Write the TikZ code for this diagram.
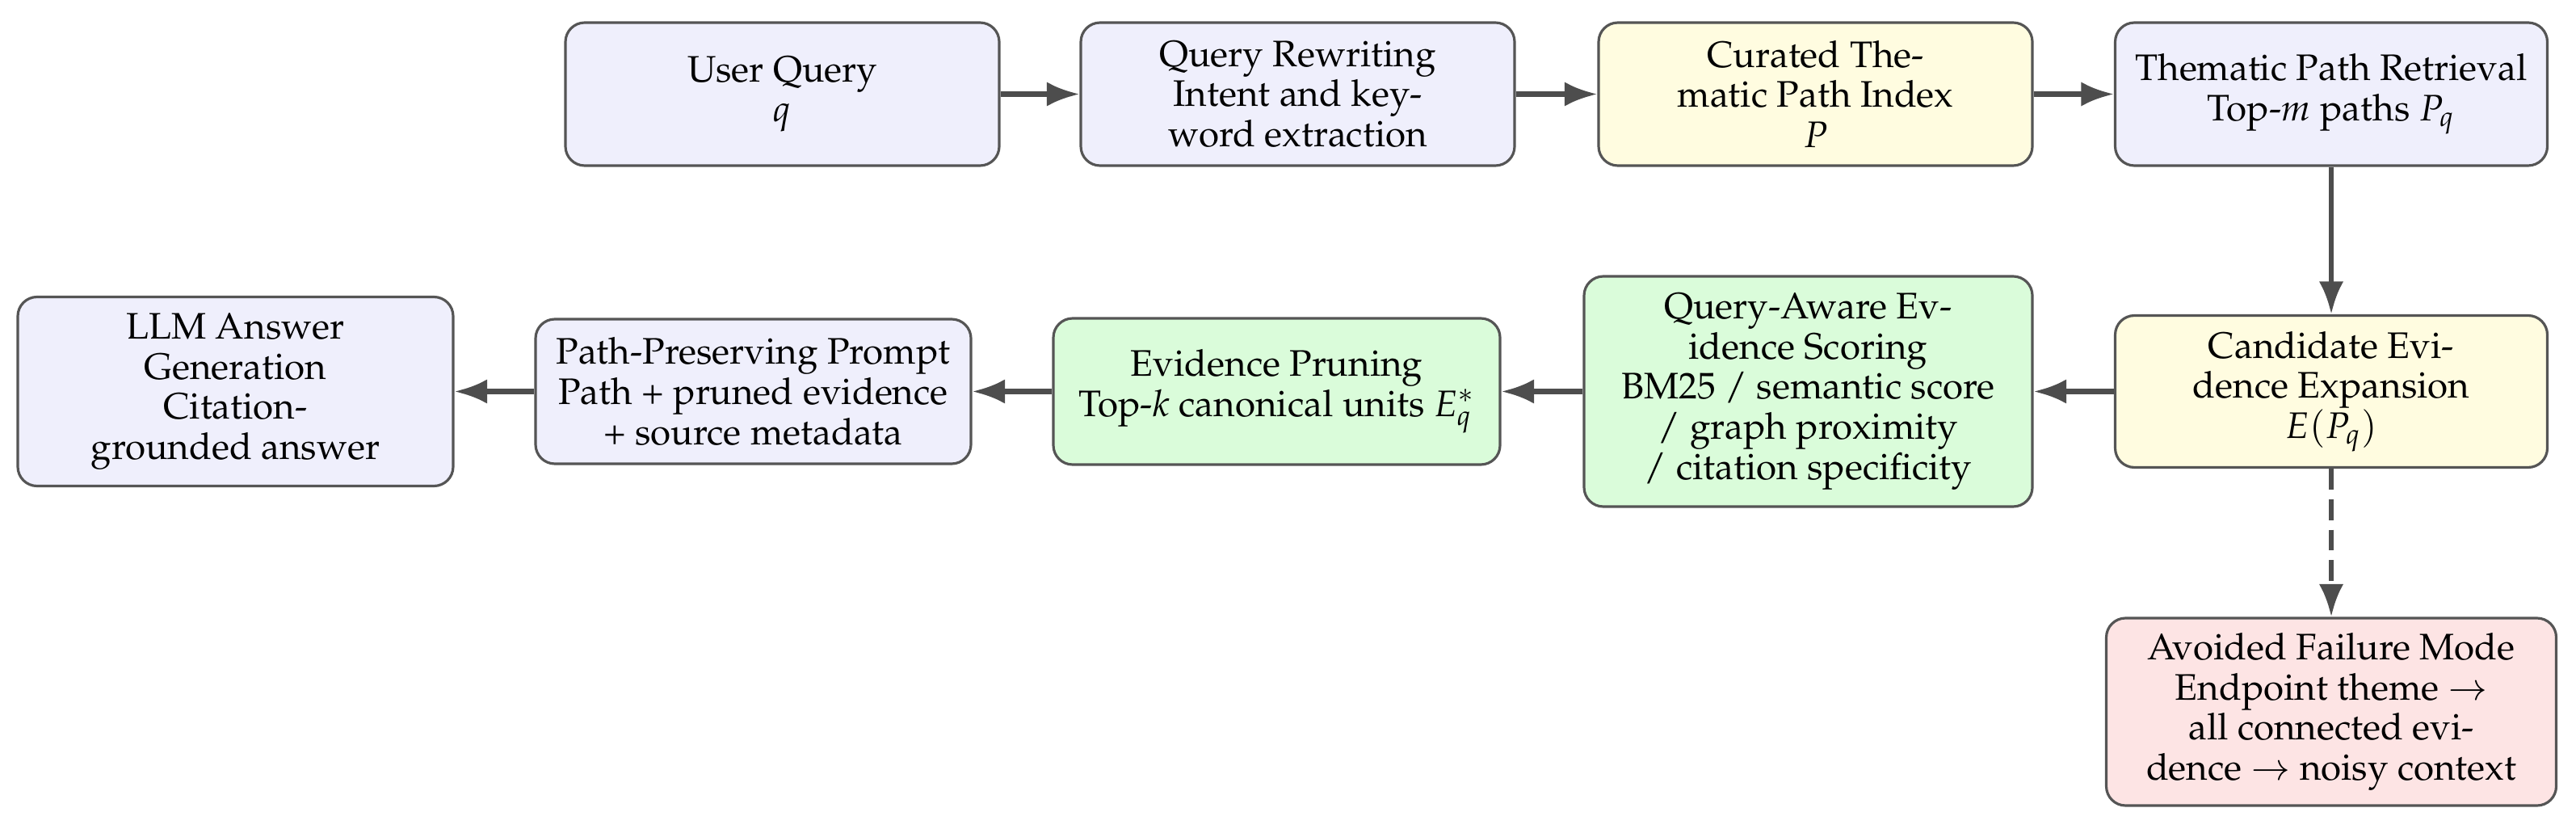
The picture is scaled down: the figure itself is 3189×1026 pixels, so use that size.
\documentclass[tikz,border=0pt]{standalone}
\usepackage[T1]{fontenc}
\usepackage{mathpazo}
\usetikzlibrary{arrows.meta}
\definecolor{bluef}{RGB}{239,239,252}
\definecolor{yellowf}{RGB}{255,252,224}
\definecolor{greenf}{RGB}{218,252,218}
\definecolor{redf}{RGB}{253,228,228}
\definecolor{boxline}{RGB}{85,85,85}
\definecolor{arrowc}{RGB}{77,77,77}
\newcommand\pxu{0.008857cm}
\begin{document}
\begin{tikzpicture}[x=0.008857cm,y=-0.008857cm,
  box/.style={draw=boxline, line width=0.8pt, rounded corners=6pt, align=center, inner sep=2pt, font=\fontsize{11.5}{12.5}\selectfont},
  flow/.style={draw=arrowc, line width=1.6pt, -{Latex}},
  dflow/.style={flow, dash pattern=on 6.5pt off 3pt},
]
\useasboundingbox (0,0) rectangle (3189,1026);
\node[box, fill=bluef, minimum width=537*\pxu, minimum height=177*\pxu] (uq) at (968.5,116.5) {User Query\\$q$};
\node[box, fill=bluef, minimum width=537*\pxu, minimum height=177*\pxu] (qr) at (1606.5,116.5) {Query Rewriting\\Intent and key-\\word extraction};
\node[box, fill=yellowf, minimum width=537*\pxu, minimum height=177*\pxu] (cp) at (2247.5,116.5) {Curated The-\\matic Path Index\\$P$};
\node[box, fill=bluef, minimum width=535*\pxu, minimum height=177*\pxu] (tp) at (2886,116.5) {Thematic Path Retrieval\\Top-$m$ paths $P_q$};
\node[box, fill=yellowf, minimum width=535*\pxu, minimum height=188*\pxu] (ce) at (2886,484.5) {Candidate Evi-\\dence Expansion\\$E(P_q)$};
\node[box, fill=greenf, minimum width=555*\pxu, minimum height=285*\pxu] (qa) at (2238.5,484.5) {Query-Aware Ev-\\idence Scoring\\BM25 / semantic score\\/ graph proximity\\/ citation specificity};
\node[box, fill=greenf, minimum width=553*\pxu, minimum height=181*\pxu] (ep) at (1580.5,484.5) {Evidence Pruning\\Top-$k$ canonical units $E_q^*$};
\node[box, fill=bluef, minimum width=539*\pxu, minimum height=179*\pxu] (pp) at (932.5,484.5) {Path-Preserving Prompt\\Path + pruned evidence\\+ source metadata};
\node[box, fill=bluef, minimum width=539*\pxu, minimum height=234*\pxu] (llm) at (291.5,484.5) {LLM Answer\\Generation\\Citation-\\grounded answer};
\node[box, fill=redf, minimum width=557*\pxu, minimum height=232*\pxu] (af) at (2886,881) {Avoided Failure Mode\\Endpoint theme $\rightarrow$\\all connected evi-\\dence $\rightarrow$ noisy context};
\draw[flow] (uq) -- (qr);
\draw[flow] (qr) -- (cp);
\draw[flow] (cp) -- (tp);
\draw[flow] (tp) -- (ce);
\draw[flow] (ce) -- (qa);
\draw[flow] (qa) -- (ep);
\draw[flow] (ep) -- (pp);
\draw[flow] (pp) -- (llm);
\draw[dflow] (ce) -- (af);
\end{tikzpicture}
\end{document}
